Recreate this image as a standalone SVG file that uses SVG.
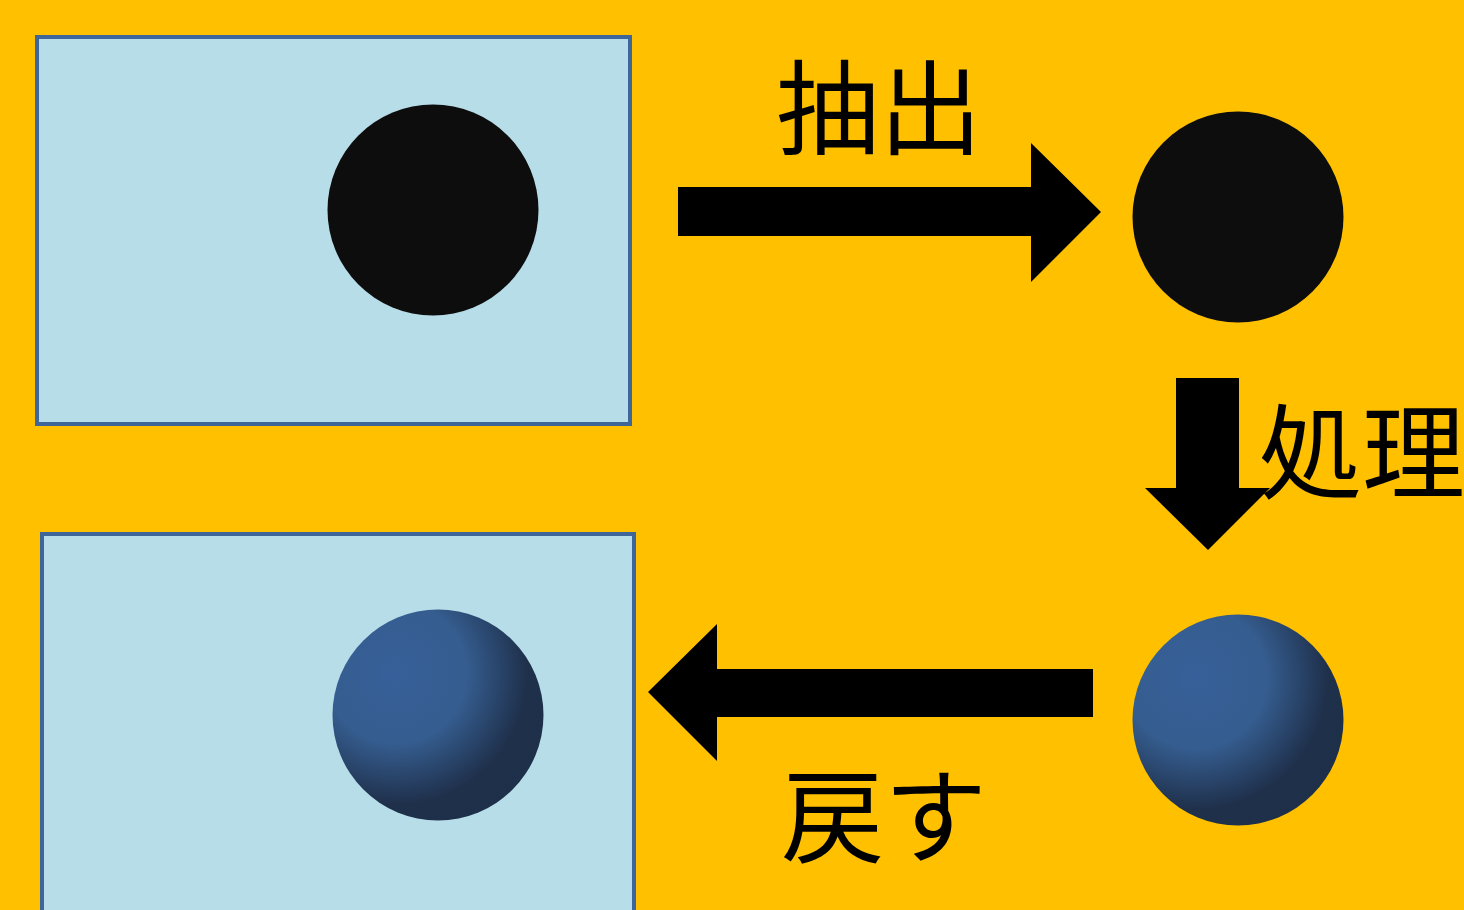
<svg xmlns="http://www.w3.org/2000/svg" width="1464" height="910" viewBox="0 0 1464 910">
<style>
.frame{fill:#B7DDE8;stroke:#3F6698;stroke-width:4}
.dot{fill:#0D0D0D}
.ball{fill:url(#sphere)}
.arrow{fill:#000}
.lbl{font-family:"Noto Sans CJK JP","Noto Sans CJK SC",sans-serif;font-size:103px;fill:#000}
</style>
<defs>
<radialGradient id="sphere" cx="0.3" cy="0.3" r="0.8">
<stop offset="0" stop-color="#37609A"/>
<stop offset="0.42" stop-color="#355D8F"/>
<stop offset="0.78" stop-color="#1F304B"/>
<stop offset="1" stop-color="#1E2F49"/>
</radialGradient>
</defs>
<rect width="1464" height="910" fill="#FFC000"/>
<g id="frame-top"><rect class="frame" x="37" y="37" width="593" height="387"/><circle class="dot" cx="433" cy="210" r="105.5"/></g>
<g id="frame-bottom"><rect class="frame" x="42" y="534" width="592" height="400"/><circle class="ball" cx="438" cy="715" r="105.5"/></g>
<g id="extracted"><circle class="dot" cx="1238" cy="217" r="105.5"/></g>
<g id="processed"><circle class="ball" cx="1238" cy="720" r="105.5"/></g>
<g id="connectors">
<polygon class="arrow" points="678,187 1031,187 1031,143 1101,212 1031,282 1031,236 678,236"/>
<polygon class="arrow" points="1176,378 1239,378 1239,488 1270,488 1208,550 1145,488 1176,488"/>
<polygon class="arrow" points="1093,669 717,669 717,624 648,692 717,761 717,717 1093,717"/>
</g>
<g id="labels">
<text class="lbl" x="776" y="147">抽出</text>
<text class="lbl" x="1259" y="491">処理</text>
<text class="lbl" x="781" y="855">戻す</text>
</g>
</svg>
